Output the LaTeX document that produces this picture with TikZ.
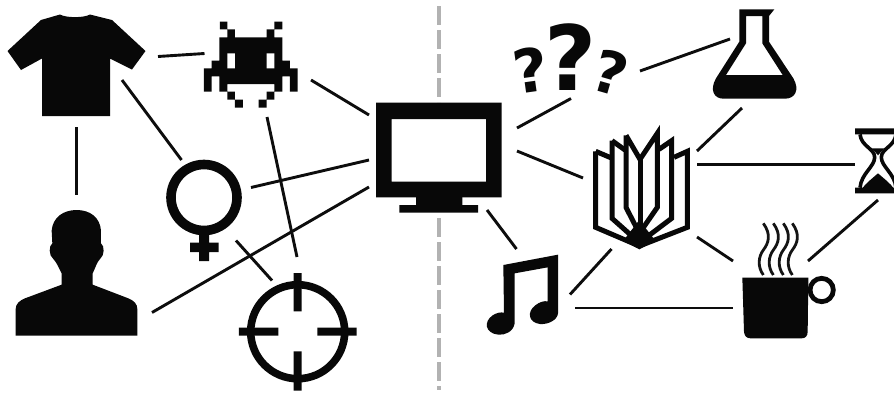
\documentclass[tikz,border=0pt]{standalone}
\usepackage{fontspec}
\newfontfamily\qfont{DejaVu Sans}[BoldFont={DejaVu Sans Bold}]
\tikzset{
  link/.style={line width=2.9pt,black!95},
  ink/.style={fill=black!97,draw=none},
  page/.style={line width=5pt,black!97,miter limit=20,line join=miter},
  steam/.style={line width=2.8pt,black!92},
  qmark/.style={inner sep=0pt,outer sep=0pt,text=black!97,font=\qfont\bfseries},
  divider/.style={line width=3.2pt,black!30,dash pattern=on 19pt off 5pt},
}
\begin{document}
\begin{tikzpicture}[x=1pt,y=-1pt]
\useasboundingbox (0,0) rectangle (894,394);
\fill[white] (0,0) rectangle (894,394);
% divider
\draw[divider] (439,6) -- (439,102);
\draw[divider] (439,218) -- (439,390);
% t-shirt
\fill[ink] (60,14.5) .. controls (66,18) and (84,18) .. (90,14.5) -- (112,20) -- (145.5,51) -- (132,69.5) -- (110,58.5) -- (110,116) -- (42,116) -- (42,58.5) -- (21,70) -- (7.5,51) -- (41,20) -- cycle;
% invader
\begin{scope}[scale=1/3]
\fill[ink] (660,65) -- (682,65) -- (682,88) -- (705,88) -- (705,112) -- (800,112) -- (800,88) -- (823,88) -- (823,65) -- (847,65) -- (847,88) -- (823,88) -- (823,112) -- (847,112) -- (847,182) -- (870,182) -- (870,205) -- (893,205) -- (893,275) -- (870,275) -- (870,229) -- (847,229) -- (847,275) -- (823,275) -- (823,299) -- (800,299) -- (800,323) -- (776,323) -- (776,299) -- (800,299) -- (800,275) -- (823,275) -- (823,252) -- (682,252) -- (682,275) -- (705,275) -- (705,299) -- (729,299) -- (729,323) -- (705,323) -- (705,299) -- (682,299) -- (682,275) -- (658,275) -- (658,229) -- (635,229) -- (635,275) -- (612,275) -- (612,205) -- (635,205) -- (635,182) -- (658,182) -- (658,112) -- (682,112) -- (682,88) -- (660,88) -- cycle;
\fill[white] (682,160) rectangle (705,205) (800,160) rectangle (823,205);
\end{scope}
% person
\begin{scope}[shift={(0,194)},scale=1/3]
\fill[ink] (47,425) -- (47,345) .. controls (47,330) and (58,320) .. (75,313) -- (185,272) -- (185,238) .. controls (178,225) and (170,205) .. (160,195) .. controls (146,185) and (146,155) .. (157,148) -- (155,110) .. controls (158,70) and (190,48) .. (230,48) .. controls (270,48) and (300,70) .. (303,110) -- (303,148) .. controls (314,155) and (314,185) .. (300,195) .. controls (290,205) and (285,225) .. (278,238) -- (278,272) -- (385,313) .. controls (402,320) and (412,330) .. (412,345) -- (412,425) -- cycle;
\end{scope}
% venus
\draw[line width=9.6pt,black!97] (204,197.5) circle (33);
\fill[ink] (199,232) rectangle (209,261) (190,242.5) rectangle (218.5,252);
% crosshair
\draw[line width=7.6pt,black!97] (297.7,331.7) circle (47);
\begin{scope}[shift={(0,194)},scale=1/3]
\fill[ink] (881,237) rectangle (905,352) (881,472) rectangle (905,590)
 (717,401) rectangle (835,425) (952,401) rectangle (1070,425);
\end{scope}
% monitor
\begin{scope}[shift={(360,0)},scale=1/3]
\fill[ink,even odd rule] (48,308) rectangle (425,592) (95,357) rectangle (378,545);
\fill[ink] (168,590) rectangle (307,618) (118,615) rectangle (354,638);
\end{scope}
% question marks
\node[qmark] (q2) at (571,57.5) {\fontsize{90}{90}\selectfont ?};
\node[qmark,rotate=8] (q1) at (531,70) {\fontsize{60}{60}\selectfont ?};
\node[qmark,rotate=-16] (q3) at (611,72) {\fontsize{58}{58}\selectfont ?};
% flask
\begin{scope}[shift={(640,0)},scale=1/3]
\fill[ink,even odd rule] (298,28) -- (403,28) -- (387,48) -- (387,125) -- (460,235) .. controls (480,270) and (465,296) .. (435,296) -- (250,296) .. controls (222,296) and (208,270) .. (228,235) -- (298,125) -- cycle
 (318,48) -- (367,48) -- (367,130) -- (428,225) -- (258,225) -- (318,130) -- cycle;
\end{scope}
% hourglass
\begin{scope}[shift={(844,120)},scale=1/3]
\fill[ink] (33,25) rectangle (171,43) (33,203) rectangle (171,220);
\fill[ink] (84,85) -- (120,85) -- (102,106) -- cycle;
\fill[ink] (102,160) .. controls (85,175) and (65,190) .. (55,205) -- (149,205) .. controls (139,190) and (119,175) .. (102,160) -- cycle;
\draw[line width=3.6pt,black!97] (48,43) .. controls (52,80) and (92,85) .. (92,112) .. controls (92,140) and (52,160) .. (48,203);
\draw[line width=3.6pt,black!97] (156,43) .. controls (152,80) and (112,85) .. (112,112) .. controls (112,140) and (152,160) .. (156,203);
\end{scope}
% book
\begin{scope}[shift={(580,120)},scale=1/3]
\fill[ink] (178,388) -- (130,362) -- (178,300) -- (226,362) -- cycle;
\draw[page] (47,94) -- (47,322) -- (178,378) -- (322,322) -- (322,94) -- (282,112);
\draw[page] (47,94) -- (92,113);
\draw[page] (96,62) -- (96,295) -- (178,368) -- (275,295) -- (275,62) -- (237,88);
\draw[page] (96,62) -- (135,90);
\draw[page] (138,46) -- (138,262) -- (178,340) -- (232,262) -- (232,40) -- (180,118) -- (138,46);
\draw[page] (180,118) -- (180,375);
\end{scope}
% music
\begin{scope}[shift={(470,190)},scale=1/3]
\fill[ink] (100,225) -- (264,194) -- (264,370) .. controls (262,390) and (235,404) .. (210,402) .. controls (175,398) and (170,365) .. (196,346) .. controls (208,336) and (222,332) .. (233,334) -- (233,232) -- (134,250) -- (134,400) .. controls (130,425) and (105,436) .. (85,434) .. controls (45,430) and (40,395) .. (68,376) .. controls (80,368) and (92,366) .. (102,368) -- cycle;
\end{scope}
% cup
\begin{scope}[shift={(730,210)},scale=1/3]
\fill[ink] (37,203) -- (235,203) -- (233,365) .. controls (233,378) and (226,385) .. (215,385) -- (62,385) .. controls (50,385) and (43,378) .. (42,365) -- cycle;
\draw[line width=4.8pt,black!97] (275,240) circle (35);
\foreach \dx in {0,30,60,87}{
\draw[steam,xshift=\dx] (100,40) .. controls (125,75) and (115,100) .. (100,120) .. controls (85,140) and (82,170) .. (100,195);
}
\end{scope}
% connectors
\coordinate (a1) at (158,56.5); \coordinate (a2) at (204.5,53.5);
\draw[link] (a1) -- (a2);
\coordinate (b1) at (122,80); \coordinate (b2) at (181.5,160);
\draw[link] (b1) -- (b2);
\coordinate (c1) at (76.5,127); \coordinate (c2) at (76.5,195);
\draw[link] (c1) -- (c2);
\coordinate (d1) at (267,117); \coordinate (d2) at (297,257);
\draw[link] (d1) -- (d2);
\coordinate (e1) at (311,80); \coordinate (e2) at (369,115);
\draw[link] (e1) -- (e2);
\coordinate (f1) at (251,187.5); \coordinate (f2) at (369,160);
\draw[link] (f1) -- (f2);
\coordinate (g1) at (152,312.5); \coordinate (g2) at (369,187);
\draw[link] (g1) -- (g2);
\coordinate (h1) at (236,240.5); \coordinate (h2) at (272,280.5);
\draw[link] (h1) -- (h2);
\coordinate (i1) at (517,128); \coordinate (i2) at (571,98.5);
\draw[link] (i1) -- (i2);
\coordinate (j1) at (517,151); \coordinate (j2) at (583,178);
\draw[link] (j1) -- (j2);
\coordinate (k1) at (487,210); \coordinate (k2) at (516.5,249);
\draw[link] (k1) -- (k2);
\coordinate (l1) at (640,71); \coordinate (l2) at (730,39);
\draw[link] (l1) -- (l2);
\coordinate (m1) at (697,151); \coordinate (m2) at (742,108);
\draw[link] (m1) -- (m2);
\coordinate (n1) at (697,164.5); \coordinate (n2) at (855,164.5);
\draw[link] (n1) -- (n2);
\coordinate (o1) at (697,237); \coordinate (o2) at (733,261);
\draw[link] (o1) -- (o2);
\coordinate (p1) at (570,294.5); \coordinate (p2) at (611.5,249);
\draw[link] (p1) -- (p2);
\coordinate (q1c) at (575,308); \coordinate (q2c) at (733,308);
\draw[link] (q1c) -- (q2c);
\coordinate (r1) at (808,261); \coordinate (r2) at (878,200);
\draw[link] (r1) -- (r2);
\end{tikzpicture}
\end{document}
